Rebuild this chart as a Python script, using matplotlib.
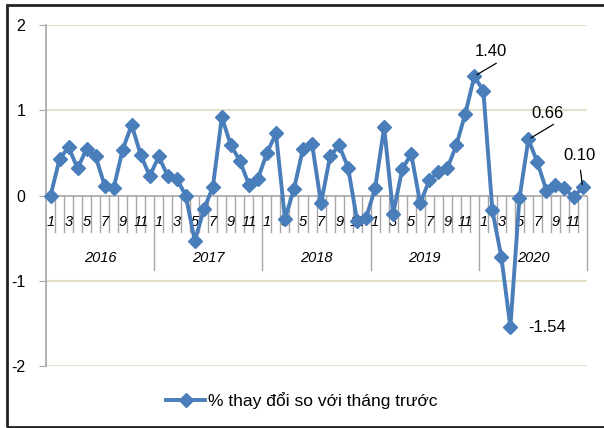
import numpy as np
import matplotlib.pyplot as plt
from matplotlib.patches import Rectangle

plt.rcParams['font.family'] = ['Liberation Sans', 'DejaVu Sans']

years = ['2016', '2017', '2018', '2019', '2020']
months = list(range(1, 13))

# % change vs previous month
v2016 = [0.00, 0.43, 0.57, 0.32, 0.55, 0.46, 0.12, 0.09, 0.54, 0.83, 0.48, 0.23]
v2017 = [0.46, 0.23, 0.20, 0.00, -0.53, -0.16, 0.10, 0.92, 0.59, 0.41, 0.13, 0.20]
v2018 = [0.50, 0.73, -0.27, 0.08, 0.55, 0.61, -0.09, 0.46, 0.59, 0.33, -0.29, -0.26]
v2019 = [0.09, 0.80, -0.21, 0.31, 0.49, -0.09, 0.18, 0.28, 0.32, 0.59, 0.96, 1.40]
v2020 = [1.23, -0.17, -0.72, -1.54, -0.03, 0.66, 0.39, 0.06, 0.13, 0.09, -0.02, 0.10]
values = v2016 + v2017 + v2018 + v2019 + v2020

series_name = '% thay đổi so với tháng trước'
blue = '#4a7ebb'
grid_c = '#e3dfc8'
axis_c = '#a6a6a6'

fig = plt.figure(figsize=(6.04, 4.28), dpi=100)
ax = fig.add_axes([0.0762, 0.1437, 0.8957, 0.7979])

n = len(values)
x = np.arange(n) + 0.5
ax.set_xlim(0, n)
ax.set_ylim(-2, 2)

# gridlines and zero axis
for yv in [2, 1, -1, -2]:
    ax.axhline(yv, color=grid_c, lw=1.5, zorder=0)
ax.axhline(0, color=axis_c, lw=1.2, zorder=1)

# category tick marks and year separators below the zero line
for b in range(1, n + 1):
    if b % 12 == 0:
        ax.plot([b, b], [0, -0.87], color=axis_c, lw=1, zorder=1, clip_on=False)
    else:
        ax.plot([b, b], [0, -0.43], color=axis_c, lw=1, zorder=1)

for i in range(n):
    m = months[i % 12]
    if m % 2 == 1:
        ax.text(x[i], -0.31, str(m), ha='center', va='center',
                fontsize=10.5, style='italic', zorder=2)
for k, yr in enumerate(years):
    ax.text(12 * k + 6, -0.73, yr, ha='center', va='center',
            fontsize=10.5, style='italic', zorder=2)

ax.plot(x, values, color=blue, lw=2.8, marker='D', markersize=7,
        label=series_name, zorder=3, clip_on=False)

# data labels
def label(idx, txt, line_end, text_off):
    if line_end is not None:
        ax.annotate('', xy=(x[idx], values[idx]), xytext=line_end,
                    textcoords='offset pixels',
                    arrowprops=dict(arrowstyle='-', color='black', lw=0.9,
                                    shrinkA=0, shrinkB=2))
    ax.annotate(txt, xy=(x[idx], values[idx]), xytext=text_off,
                textcoords='offset pixels', ha='center', va='center',
                fontsize=12)

i_max = values.index(max(values))
i_min = values.index(min(values))
label(i_max, '1.40', (22, 13), (17, 25))
label(53, '0.66', (25, 15), (19, 26))
label(n - 1, '0.10', (-2, 17), (-3, 32))
label(i_min, '-1.54', None, (37, 0))

ax.set_xticks([])
ax.set_yticks([-2, -1, 0, 1, 2])
ax.set_yticklabels(['-2', '-1', '0', '1', '2'], fontsize=11.5)
ax.tick_params(axis='y', length=5, color=axis_c, pad=10)
for s in ['top', 'right', 'bottom']:
    ax.spines[s].set_visible(False)
ax.spines['left'].set_color(axis_c)
ax.spines['left'].set_linewidth(1.2)

leg = fig.legend(loc='center', bbox_to_anchor=(0.5, 0.065), frameon=False,
                 fontsize=12.5, handlelength=2.2, handletextpad=0.2)

# outer border
fig.patches.append(Rectangle((7 / 604, 1 / 428), 1.0, 1 - 6 / 428,
                             transform=fig.transFigure, fill=False,
                             edgecolor='#222222', lw=2))

fig.savefig('out.png', dpi=100)
